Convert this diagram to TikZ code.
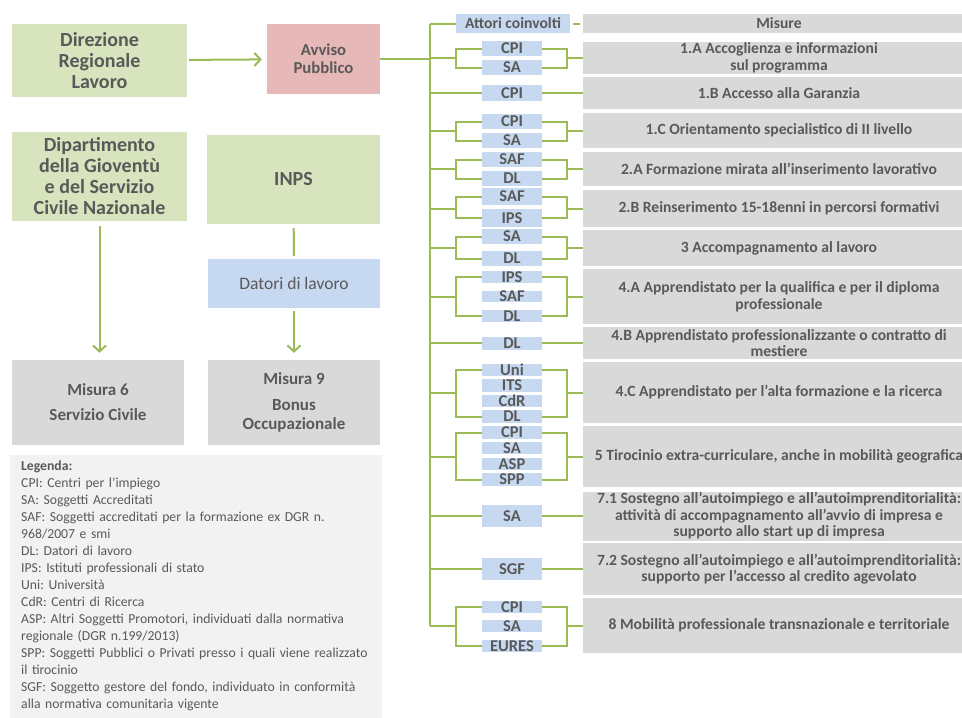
\documentclass[tikz,border=0pt]{standalone}
\usepackage{fontspec}
\setmainfont{Carlito}
\usepackage{xcolor}
\usetikzlibrary{arrows.meta}
\frenchspacing

\definecolor{boxgreen}{HTML}{D7E4BD}
\definecolor{boxpink}{HTML}{E6B9B8}
\definecolor{boxblue}{HTML}{C6D9F1}
\definecolor{boxgray}{HTML}{D9D9D9}
\definecolor{legendgray}{HTML}{F2F2F2}
\definecolor{linegreen}{HTML}{9BBB59}
\definecolor{textgray}{HTML}{595959}

\tikzset{
  ente/.style={rectangle, fill=boxgreen, text=textgray, align=center, inner sep=0pt,
    font=\bfseries\fontsize{20}{21}\selectfont},
  avviso/.style={rectangle, fill=boxpink, text=textgray, align=center, inner sep=0pt,
    font=\bfseries\fontsize{16.7}{18}\selectfont},
  datori/.style={rectangle, fill=boxblue, text=textgray, align=center, inner sep=0pt,
    font=\fontsize{17.5}{19}\selectfont},
  misbox/.style={rectangle, fill=boxgray, text=textgray, align=center, inner sep=0pt,
    minimum width=172pt, minimum height=85pt, font=\bfseries\fontsize{17}{19}\selectfont},
  attore/.style={rectangle, fill=boxblue, text=textgray, inner sep=0pt, minimum width=60pt,
    font=\bfseries\fontsize{16.5}{16.5}\selectfont},
  misura/.style={rectangle, fill=boxgray, text=textgray, align=center, inner sep=0pt,
    minimum width=392pt, font=\bfseries\fontsize{15.6}{16.5}\selectfont},
  link/.style={draw=linegreen, line width=2pt},
  freccia/.style={link, -{Straight Barb[length=6pt, width=13pt]}}
}

\begin{document}
\begin{tikzpicture}[x=1pt, y=-1pt]
  \useasboundingbox (0,0) rectangle (962,718);
  \clip (0,0) rectangle (962,718);

  % enti e misure nazionali
  \node[ente, minimum width=175pt, minimum height=73pt] (dir) at (99.5,60.5) {Direzione\\Regionale\\Lavoro};
  \node[avviso, minimum width=113pt, minimum height=70pt] (avv) at (323.5,59) {Avviso\\Pubblico};
  \node[ente, minimum width=175pt, minimum height=89pt] (dip) at (99.5,176.5) {Dipartimento\\della Gioventù\\e del Servizio\\Civile Nazionale};
  \node[ente, minimum width=173pt, minimum height=89pt] (inps) at (293.5,179.5) {INPS};
  \node[datori, minimum width=172pt, minimum height=49pt] (dat) at (294,283.5) {Datori di lavoro};
  \node[misbox] (mis6) at (98,402.5) {Misura 6\\[6pt]Servizio Civile};
  \node[misbox] (mis9) at (294,402.5) {Misura 9\\[7pt]Bonus\\Occupazionale};

  \draw[freccia, shorten <=2pt, shorten >=5pt] (dir) -- (avv);
  \draw[freccia, shorten <=5pt, shorten >=7pt] (dip.south) -- (dip.south |- mis6.north);
  \draw[link, shorten <=4pt, shorten >=3pt] (inps) -- (dat);
  \draw[freccia, shorten <=3pt, shorten >=7pt] (dat) -- (mis9);

  % legenda
  \fill[legendgray] (10,455) rectangle (382,718);
  \node[text=textgray, anchor=north west, inner xsep=11pt, inner ysep=6pt,
    text width=358pt, align=left, font=\fontsize{13.7}{17}\selectfont] (leg) at (10,455) {%
    \textbf{Legenda:}\\
    CPI: Centri per l’impiego\\
    SA: Soggetti Accreditati\\
    SAF: Soggetti accreditati per la formazione ex DGR n.\\
    968/2007 e smi\\
    DL: Datori di lavoro\\
    IPS: Istituti professionali di stato\\
    Uni: Università\\
    CdR: Centri di Ricerca\\
    ASP: Altri Soggetti Promotori, individuati dalla normativa\\
    regionale (DGR n.199/2013)\\
    SPP: Soggetti Pubblici o Privati presso i quali viene realizzato\\
    il tirocinio\\
    SGF: Soggetto gestore del fondo, individuato in conformità\\
    alla normativa comunitaria vigente};

  % attori e misure regionali
  \coordinate (ttop) at (430,24);
  \coordinate (tbot) at (430,626);
  \draw[link] (ttop) -- (tbot);
  \draw[link] (avv) -- (avv -| ttop);

  \node[attore, minimum width=114pt, minimum height=19pt, font=\bfseries\fontsize{15.6}{15.6}\selectfont] (att) at (513,23.5) {Attori coinvolti};
  \node[misura, minimum height=19pt] (mis) at (779,23.5) {Misure};
  \draw[link] (ttop) -- (att);
  \draw[link] ([xshift=3pt]att.east) -- ([xshift=-3pt]mis.west);

  \node[misura, minimum height=32pt] (m1a) at (779,58) {1.A Accoglienza e informazioni\\sul programma};
  \node[misura, minimum height=32pt] (m1b) at (779,93) {1.B Accesso alla Garanzia};
  \node[misura, minimum height=35pt] (m1c) at (779,130.5) {1.C Orientamento specialistico di II livello};
  \node[misura, minimum height=34pt] (m2a) at (779,169) {2.A Formazione mirata all’inserimento lavorativo};
  \node[misura, minimum height=37pt] (m2b) at (779,208.5) {2.B Reinserimento 15-18enni in percorsi formativi};
  \node[misura, minimum height=36pt] (m3) at (779,248) {3 Accompagnamento al lavoro};
  \node[misura, minimum height=55pt] (m4a) at (779,296.5) {4.A Apprendistato per la qualifica e per il diploma\\professionale};
  \node[misura, minimum height=32pt] (m4b) at (779,343) {4.B Apprendistato professionalizzante o contratto di\\mestiere};
  \node[misura, minimum height=61pt] (m4c) at (779,392.5) {4.C Apprendistato per l’alta formazione e la ricerca};
  \node[misura, minimum height=61pt] (m5) at (779,456.5) {5 Tirocinio extra-curriculare, anche in mobilità geografica};
  \node[misura, minimum height=49pt] (m71) at (779,516) {7.1 Sostegno all’autoimpiego e all’autoimprenditorialità:\\attività di accompagnamento all’avvio di impresa e\\supporto allo start up di impresa};
  \node[misura, minimum height=52pt] (m72) at (779,569) {7.2 Sostegno all’autoimpiego e all’autoimprenditorialità:\\supporto per l’accesso al credito agevolato};
  \node[misura, minimum height=55pt] (m8) at (779,625.5) {8 Mobilità professionale transnazionale e territoriale};

  % 1.A
  \node[attore, minimum height=15pt] (cpi1a) at (512,48.5) {CPI};
  \node[attore, minimum height=15pt] (sa1a) at (512,67.5) {SA};
  \draw[link] (ttop |- m1a) -- ++(26,0) coordinate (j1a);
  \draw[link] (cpi1a.west) -| (j1a);
  \draw[link] (sa1a.west) -| (j1a);
  \draw[link] (cpi1a.east) -- ++(25,0) |- (m1a.west);
  \draw[link] (sa1a.east) -- ++(25,0) |- (m1a.west);

  % 1.B
  \node[attore, minimum height=16pt] (cpi1b) at (512,93) {CPI};
  \draw[link] (ttop |- cpi1b) -- (cpi1b);
  \draw[link] (cpi1b) -- (m1b);

  % 1.C
  \node[attore, minimum height=15pt] (cpi1c) at (512,121.5) {CPI};
  \node[attore, minimum height=15pt] (sa1c) at (512,140.5) {SA};
  \draw[link] (ttop |- m1c) -- ++(26,0) coordinate (j1c);
  \draw[link] (cpi1c.west) -| (j1c);
  \draw[link] (sa1c.west) -| (j1c);
  \draw[link] (cpi1c.east) -- ++(25,0) |- (m1c.west);
  \draw[link] (sa1c.east) -- ++(25,0) |- (m1c.west);

  % 2.A
  \node[attore, minimum height=15pt] (saf2a) at (512,159.5) {SAF};
  \node[attore, minimum height=15pt] (dl2a) at (512,178.5) {DL};
  \draw[link] (ttop |- m2a) -- ++(26,0) coordinate (j2a);
  \draw[link] (saf2a.west) -| (j2a);
  \draw[link] (dl2a.west) -| (j2a);
  \draw[link] (saf2a.east) -- ++(25,0) |- (m2a.west);
  \draw[link] (dl2a.east) -- ++(25,0) |- (m2a.west);

  % 2.B
  \node[attore, minimum height=17pt] (saf2b) at (512,196.5) {SAF};
  \node[attore, minimum height=18pt] (ips2b) at (512,218) {IPS};
  \draw[link] (ttop |- m2b) -- ++(26,0) coordinate (j2b);
  \draw[link] (saf2b.west) -| (j2b);
  \draw[link] (ips2b.west) -| (j2b);
  \draw[link] (saf2b.east) -- ++(25,0) |- (m2b.west);
  \draw[link] (ips2b.east) -- ++(25,0) |- (m2b.west);

  % 3
  \node[attore, minimum height=15pt] (sa3) at (512,236.5) {SA};
  \node[attore, minimum height=15pt] (dl3) at (512,258.5) {DL};
  \draw[link] (ttop |- m3) -- ++(26,0) coordinate (j3);
  \draw[link] (sa3.west) -| (j3);
  \draw[link] (dl3.west) -| (j3);
  \draw[link] (sa3.east) -- ++(25,0) |- (m3.west);
  \draw[link] (dl3.east) -- ++(25,0) |- (m3.west);

  % 4.A
  \node[attore, minimum height=12pt] (ips4a) at (512,277) {IPS};
  \node[attore, minimum height=11pt] (saf4a) at (512,296.5) {SAF};
  \node[attore, minimum height=12pt] (dl4a) at (512,316) {DL};
  \draw[link] (ttop |- m4a) -- ++(26,0) coordinate (j4a);
  \draw[link] (ips4a.west) -| (j4a);
  \draw[link] (dl4a.west) -| (j4a);
  \draw[link] (ips4a.east) -- ++(25,0) |- (m4a.west);
  \draw[link] (dl4a.east) -- ++(25,0) |- (m4a.west);

  % 4.B
  \node[attore, minimum height=13pt] (dl4b) at (512,343) {DL};
  \draw[link] (ttop |- dl4b) -- (dl4b);
  \draw[link] (dl4b) -- (m4b);

  % 4.C
  \node[attore, minimum height=12pt] (uni4c) at (512,370) {Uni};
  \node[attore, minimum height=13pt] (its4c) at (512,385.5) {ITS};
  \node[attore, minimum height=12pt] (cdr4c) at (512,401) {CdR};
  \node[attore, minimum height=13pt] (dl4c) at (512,416.5) {DL};
  \draw[link] (ttop |- m4c) -- ++(26,0) coordinate (j4c);
  \draw[link] (uni4c.west) -| (j4c);
  \draw[link] (dl4c.west) -| (j4c);
  \draw[link] (uni4c.east) -- ++(25,0) |- (m4c.west);
  \draw[link] (dl4c.east) -- ++(25,0) |- (m4c.west);

  % 5
  \node[attore, minimum height=13pt] (cpi5) at (512,432.5) {CPI};
  \node[attore, minimum height=12pt] (sa5) at (512,448) {SA};
  \node[attore, minimum height=12pt] (asp5) at (512,464) {ASP};
  \node[attore, minimum height=13pt] (spp5) at (512,479.5) {SPP};
  \draw[link] (ttop |- m5) -- ++(26,0) coordinate (j5);
  \draw[link] (cpi5.west) -| (j5);
  \draw[link] (spp5.west) -| (j5);
  \draw[link] (cpi5.east) -- ++(25,0) |- (m5.west);
  \draw[link] (spp5.east) -- ++(25,0) |- (m5.west);

  % 7.1
  \node[attore, minimum height=22pt] (sa71) at (512,516) {SA};
  \draw[link] (ttop |- sa71) -- (sa71);
  \draw[link] (sa71) -- (m71);

  % 7.2
  \node[attore, minimum height=22pt] (sgf72) at (512,569) {SGF};
  \draw[link] (ttop |- sgf72) -- (sgf72);
  \draw[link] (sgf72) -- (m72);

  % 8
  \node[attore, minimum height=12pt] (cpi8) at (512,607) {CPI};
  \node[attore, minimum height=12pt] (sa8) at (512,626) {SA};
  \node[attore, minimum height=12pt] (eures8) at (512,646) {EURES};
  \draw[link] (ttop |- m8) -- ++(26,0) coordinate (j8);
  \draw[link] (cpi8.west) -| (j8);
  \draw[link] (eures8.west) -| (j8);
  \draw[link] (cpi8.east) -- ++(25,0) |- (m8.west);
  \draw[link] (eures8.east) -- ++(25,0) |- (m8.west);
\end{tikzpicture}
\end{document}
